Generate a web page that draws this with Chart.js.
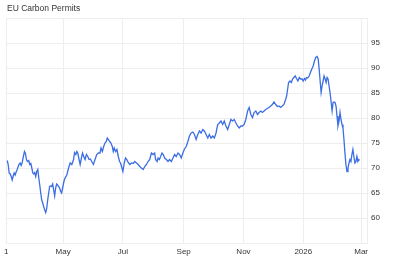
<!DOCTYPE html>
<html>
<head>
<meta charset="utf-8">
<script src="https://cdn.jsdelivr.net/npm/chart.js@4.4.1/dist/chart.umd.min.js"></script>
<style>
  html, body { margin: 0; padding: 0; background: #fff; }
  #wrap { width: 400px; height: 266px; position: relative; }
</style>
</head>
<body>
<div id="wrap"><canvas id="carbonChart"></canvas></div>
<script>
// days counted from 26 Feb 2025 (tick "1" = day 3), price in EUR/t
const days = [
    4, 5, 6, 7.1, 8.1, 9.1, 10.1, 11.1, 12.1, 13.1,
    14.2, 15.9, 17.2, 18.2, 19.2, 20.5, 21.6, 22.6, 23.6, 24.6,
    26, 27, 28.1, 29.1, 30.1, 31.1, 32.1, 33.1, 34.1, 35.2,
    36.2, 37.2, 38.2, 39.2, 40.2, 41.2, 42.3, 43.3, 44.3, 45.3,
    46.3, 47.3, 48.3, 49.3, 50.4, 51.4, 52.4, 53.4, 54.4, 55.4,
    56.4, 57.5, 58.5, 59.5, 60.5, 61.5, 62.5, 64.8, 66.6, 68.2,
    69.9, 71.7, 72.7, 74, 75, 76, 77.3, 78.4, 79.4, 80.8,
    82.1, 83.4, 84.8, 86.2, 87.5, 88.9, 90.2, 91.9, 93.6, 95.3,
    97, 98.6, 99.7, 101.1, 102.4, 103.7, 105.1, 106.1, 107.2, 108.5,
    109.8, 111.2, 112.2, 113.2, 114.6, 115.9, 117.3, 118.6, 119.6, 120.6,
    122, 123.4, 124.7, 126, 127.4, 129.1, 130.8, 132.5, 134.1, 135.9,
    137.6, 139.2, 140.9, 142.7, 144.3, 146, 147.7, 149.4, 151.1, 152.8,
    154.4, 155.4, 156.9, 157.9, 159.2, 160.5, 161.9, 163.2, 164.6, 166.3,
    168, 169.6, 171.4, 173.1, 174.7, 176.4, 178.2, 179.8, 181.5, 183.2,
    184.8, 186.6, 188.3, 189.9, 191.6, 193.4, 195, 196.7, 198.4, 200.1,
    201.8, 203.5, 205.1, 206.9, 208.6, 210.2, 211.9, 213.7, 215.3, 217,
    218.7, 220.3, 222.1, 223.8, 225.4, 227.1, 228.9, 230.5, 232.2, 233.9,
    235.6, 237.3, 239, 240.6, 242.4, 244.1, 245.7, 247.4, 249.2, 250.8,
    252.5, 254.2, 255.8, 257.6, 259.3, 260.9, 262.6, 264.3, 266, 267.7,
    269.4, 271, 272.8, 274.5, 276.1, 277.9, 279.6, 281.2, 282.9, 284.6,
    286.3, 288, 289, 290, 291, 292.4, 293.8, 295.1, 296.4, 297.8,
    299.1, 300.5, 301.9, 303.2, 304.9, 305.9, 307.3, 308.3, 309.3, 310.6,
    312, 313.3, 314.7, 316.1, 317.4, 318.7, 320.1, 321.2, 322.2, 323.2,
    324.2, 325.2, 326.2, 327.2, 328.3, 329.3, 330.3, 331.3, 332.3, 333.3,
    334.3, 335.4, 336.4, 337.4, 338.4, 339.4, 340.4, 341.4, 342.5, 343.5,
    344.5, 345.5, 346.5, 347.5, 348.5, 349.5, 350.6, 351.6, 352.6, 353.6,
    354.6, 355.6, 356.6, 357.6, 358.7, 359.7, 360.7, 361.7, 362.7, 363.3
];

const prices = [
    71.5, 70.7, 69.0, 68.8, 68.3, 67.6, 68.4, 69.0, 68.6, 69.2,
    69.7, 70.7, 71.0, 70.5, 71.0, 72.3, 73.3, 72.9, 71.7, 71.3,
    71.5, 70.7, 70.9, 70.0, 69.0, 68.8, 69.1, 68.3, 69.3, 69.7,
    68.0, 66.6, 65.0, 63.6, 63.0, 62.3, 61.6, 61.1, 61.9, 63.6,
    65.0, 66.3, 66.4, 66.3, 66.8, 65.6, 64.4, 66.0, 66.8, 66.6,
    66.3, 66.0, 65.3, 65.0, 66.0, 67.0, 67.8, 68.6, 70.0, 71.0,
    70.7, 71.7, 73.1, 72.7, 73.3, 73.0, 71.7, 70.7, 71.7, 73.0,
    72.3, 71.7, 72.7, 72.3, 71.7, 71.8, 71.3, 70.7, 71.7, 72.7,
    73.0, 73.0, 74.0, 73.3, 74.3, 75.0, 75.3, 76.0, 75.7, 75.3,
    75.0, 74.3, 73.3, 74.0, 73.3, 73.7, 72.3, 71.3, 71.0, 70.3,
    69.3, 71.0, 72.0, 71.7, 71.1, 70.7, 71.0, 70.9, 71.3, 71.0,
    70.7, 70.3, 70.0, 69.7, 70.3, 70.7, 71.3, 71.7, 73.0, 72.7,
    73.0, 71.7, 71.3, 72.0, 71.7, 72.3, 73.0, 72.7, 72.0, 71.7,
    71.3, 71.7, 71.3, 72.0, 72.7, 72.3, 73.0, 72.7, 72.0, 73.0,
    73.8, 74.3, 75.3, 76.4, 77.0, 77.2, 76.7, 75.7, 76.7, 77.4,
    77.0, 77.7, 77.4, 76.7, 76.0, 76.7, 76.0, 76.4, 76.0, 77.0,
    78.7, 79.0, 79.4, 78.7, 79.4, 78.4, 77.7, 78.7, 79.7, 79.4,
    79.7, 79.0, 78.4, 78.0, 78.4, 78.4, 78.7, 79.7, 81.4, 82.1,
    80.7, 80.1, 81.1, 81.4, 80.7, 81.1, 81.4, 81.1, 81.4, 81.7,
    81.9, 82.1, 82.4, 82.7, 83.2, 82.7, 82.3, 82.4, 82.1, 82.4,
    82.7, 83.7, 84.4, 85.7, 87.1, 87.4, 87.1, 87.8, 88.1, 88.4,
    87.9, 87.4, 88.1, 87.8, 87.8, 87.4, 87.9, 87.6, 88.1, 88.0,
    88.4, 89.1, 89.8, 90.4, 91.4, 92.1, 92.3, 91.8, 89.8, 87.4,
    85.1, 86.4, 87.4, 88.4, 87.8, 87.1, 88.1, 87.8, 86.4, 85.1,
    83.4, 81.4, 83.1, 83.2, 83.1, 82.4, 80.4, 78.4, 79.4, 81.1,
    79.7, 78.7, 78.0, 75.7, 73.0, 70.7, 69.3, 70.0, 71.0, 71.7,
    71.3, 72.7, 73.7, 72.3, 71.0, 71.3, 72.3, 71.3, 71.7, 71.5
];

// x-axis ticks (month starts) and their labels
const xTickDays = [3, 61, 122, 184, 245, 306, 365];
const xTickLabels = ["1", "May", "Jul", "Sep", "Nov", "2026", "Mar"];

// y-axis ticks shown on the right
const yTickLabels = [60, 65, 70, 75, 80, 85, 90, 95];

const chartTitle = "EU Carbon Permits";

// Plugin kecil untuk judul di pojok kiri atas
const titlePlugin = {
    id: "cornerTitle",
    afterDraw(chart) {
        const c = chart.ctx;
        c.save();
        c.fillStyle = "#333";
        c.font = "8.5px 'Liberation Sans', Arial, sans-serif";
        c.textBaseline = "middle";
        c.textAlign = "left";
        c.fillText(chartTitle, 7, 9);
        c.restore();
    },
};

function initCarbonChart() {
    const canvas = document.getElementById("carbonChart");
    if (!canvas) return;

    const points = days.map((d, i) => ({ x: d, y: prices[i] }));
    const tickFont = { family: "'Liberation Sans', Arial, sans-serif", size: 8 };

    new Chart(canvas.getContext("2d"), {
        type: "line",
        data: {
            datasets: [
                {
                    label: chartTitle,
                    data: points,
                    borderColor: "#3b6de3",
                    borderWidth: 1.3,
                    pointRadius: 0,
                    tension: 0,
                    fill: false,
                },
            ],
        },
        options: {
            responsive: true,
            maintainAspectRatio: false,
            animation: false,
            devicePixelRatio: 1,
            layout: { padding: { top: 18, left: 4, right: 0, bottom: 0 } },
            plugins: {
                legend: { display: false },
                tooltip: { enabled: false },
                title: { display: false },
            },
            scales: {
                x: {
                    type: "linear",
                    min: 3,
                    max: 371,
                    afterBuildTicks: (axis) => {
                        axis.ticks = xTickDays.map((v) => ({ value: v }));
                    },
                    afterFit: (axis) => {
                        axis.height = 23;
                    },
                    grid: { color: "#eeeeee", drawTicks: false },
                    border: { display: false },
                    ticks: {
                        font: tickFont,
                        color: "#333",
                        padding: 4,
                        maxRotation: 0,
                        autoSkip: false,
                        callback: (v) => {
                            const i = xTickDays.indexOf(v);
                            return i >= 0 ? xTickLabels[i] : "";
                        },
                    },
                },
                y: {
                    position: "right",
                    min: 55,
                    max: 100,
                    afterFit: (axis) => {
                        axis.width = 33;
                    },
                    grid: { color: "#eeeeee", drawTicks: false },
                    border: { display: true, color: "#eeeeee" },
                    ticks: {
                        stepSize: 5,
                        font: tickFont,
                        color: "#333",
                        padding: 4,
                        callback: (v) => (yTickLabels.includes(v) ? String(v) : ""),
                    },
                },
            },
        },
        plugins: [titlePlugin],
    });
}

initCarbonChart();
</script>
</body>
</html>
